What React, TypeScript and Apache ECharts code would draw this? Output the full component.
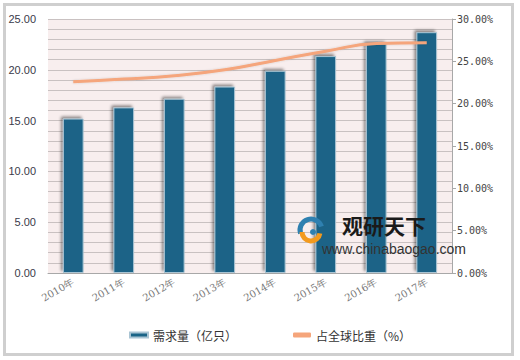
import React, { useEffect, useRef } from "react";
import * as echarts from "echarts";

const categories = ["2010年", "2011年", "2012年", "2013年", "2014年", "2015年", "2016年", "2017年"];
const demand = [15.2, 16.3, 17.15, 18.35, 19.9, 21.35, 22.6, 23.7];
const share = [22.6, 22.9, 23.3, 24.0, 25.1, 26.2, 27.1, 27.2];
const leftTicks = [0, 5, 10, 15, 20, 25];
const rightTicks = [0, 5, 10, 15, 20, 25, 30];

export default function App() {
  const ref = useRef<HTMLDivElement>(null);
  useEffect(() => {
    const chart = echarts.init(ref.current!, null, { renderer: "svg" });
    chart.setOption({
      animation: false,
      backgroundColor: "#ffffff",
      grid: { left: 48, right: 68, top: 19, bottom: 87, show: true, backgroundColor: "#f8eeee", borderWidth: 0 },
      legend: {
        bottom: 14,
        left: 124,
        itemGap: 56,
        itemWidth: 18,
        itemHeight: 5,
        textStyle: { fontSize: 12, color: "#333", fontFamily: "Noto Sans CJK SC" },
        data: [
          { name: "需求量（亿只）", icon: "rect" },
          { name: "占全球比重（%）", icon: "roundRect" },
        ],
      },
      xAxis: {
        type: "category",
        data: categories,
        axisLine: { lineStyle: { color: "#a8a8a8" } },
        axisTick: { show: false },
        axisLabel: { rotate: 30, color: "#777", fontSize: 10, fontFamily: "DejaVu Serif", margin: 8 },
      },
      yAxis: [
        {
          type: "value",
          min: leftTicks[0],
          max: leftTicks[leftTicks.length - 1],
          interval: 5,
          axisLine: { show: false },
          axisTick: { show: false },
          axisLabel: { color: "#3a3a4a", fontSize: 11, fontFamily: "Liberation Sans", formatter: (v: number) => v.toFixed(2), margin: 12 },
          splitLine: { lineStyle: { color: "#c9c1c1", width: 1 } },
          minorTick: { show: false, splitNumber: 5 },
          minorSplitLine: { show: true, lineStyle: { color: "#c9c1c1", width: 1 } },
        },
        {
          type: "value",
          min: rightTicks[0],
          max: rightTicks[rightTicks.length - 1],
          interval: 5,
          position: "right",
          axisLine: { show: true, lineStyle: { color: "#a8a8a8" } },
          axisTick: { show: true, length: 4, lineStyle: { color: "#a8a8a8" } },
          axisLabel: { color: "#444", fontSize: 10, fontFamily: "DejaVu Sans Mono", formatter: (v: number) => v.toFixed(2) + "%", margin: 5 },
          splitLine: { show: false },
        },
      ],
      series: [
        {
          name: "需求量（亿只）",
          type: "bar",
          data: demand,
          barWidth: "41%",
          itemStyle: {
            color: "#1a6487",
            borderColor: "#a9c4d3",
            borderWidth: 1,
            shadowColor: "rgba(0,0,0,0.45)",
            shadowBlur: 3,
            shadowOffsetX: -2,
            shadowOffsetY: -2,
          },
        },
        {
          name: "占全球比重（%）",
          type: "line",
          yAxisIndex: 1,
          data: share,
          smooth: true,
          symbol: "none",
          lineStyle: { color: "#f5a57b", width: 3, shadowColor: "rgba(0,0,0,0.15)", shadowBlur: 2 },
          itemStyle: { color: "#f5a57b" },
        },
      ],
      graphic: [
        {
          type: "rect",
          shape: { x: 4.5, y: 4.5, width: 508, height: 350 },
          style: { fill: "none", stroke: "#cfcfcf", lineWidth: 3 },
          z: 100,
        },
        {
          type: "arc",
          shape: { cx: 311, cy: 230, r: 11, startAngle: Math.PI * 0.9, endAngle: Math.PI * 1.9 },
          style: { stroke: "#2f80b0", lineWidth: 5, fill: "none" },
          z: 100,
        },
        {
          type: "arc",
          shape: { cx: 311, cy: 232, r: 9, startAngle: Math.PI * 0.05, endAngle: Math.PI * 1.0 },
          style: { stroke: "#f39a1e", lineWidth: 5, fill: "none" },
          z: 100,
        },
        {
          type: "circle",
          shape: { cx: 313, cy: 232, r: 3 },
          style: { fill: "#2f80b0" },
          z: 100,
        },
        {
          type: "text",
          x: 342,
          y: 214,
          style: { text: "观研天下", fontSize: 21, fontWeight: "bold", fill: "#1a1a1a", fontFamily: "Noto Sans CJK SC", lineHeight: 22 },
          z: 100,
        },
        {
          type: "text",
          x: 322,
          y: 241,
          style: { text: "www.chinabaogao.com", fontSize: 14, fill: "#333", fontFamily: "Liberation Sans", lineHeight: 15 },
          z: 100,
        },
      ],
    });
    return () => chart.dispose();
  }, []);
  return <div ref={ref} style={{ position: "fixed", left: 0, top: 0, width: 520, height: 360 }} />;
}
